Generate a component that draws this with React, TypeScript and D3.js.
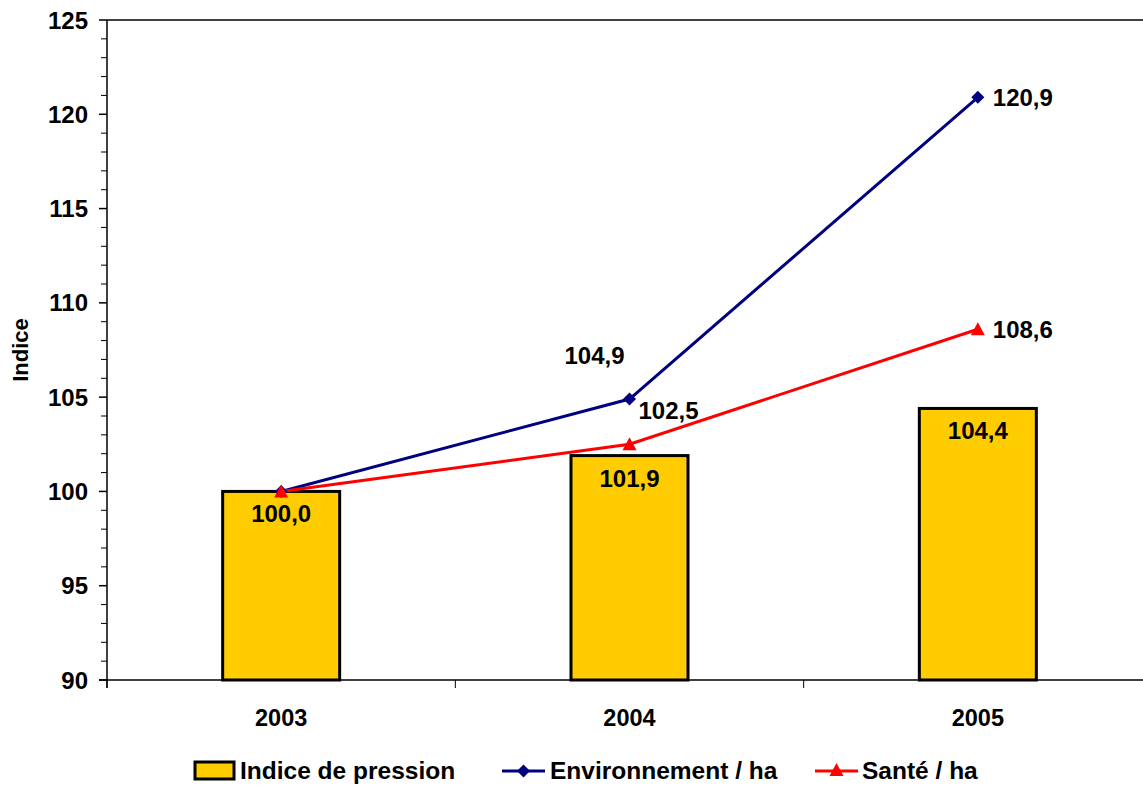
import React from "react";
import * as d3 from "d3";

// Chart data
const years = ["2003", "2004", "2005"];
const pression = [100.0, 101.9, 104.4];
const environnement = [100.0, 104.9, 120.9];
const sante = [100.0, 102.5, 108.6];

// Value labels for the lines: which points carry a label and where it sits
const envLabelPos = [null, "upleft", "right"];
const santeLabelPos = [null, "upright", "right"];

const yTicks = [90, 95, 100, 105, 110, 115, 120, 125];

const FONT = "'Liberation Sans', Arial, Helvetica, sans-serif";
const BLUE = "#000080";
const RED = "#FF0000";
const GOLD = "#FFCC00";

const W = 1143;
const H = 785;
const left = 107;
const top = 20;
const bottom = 680;
const right = 1152;

const fmt = (v: number) => v.toFixed(1).replace(".", ",");

// Excel-style markers: square diamond and equilateral-ish triangle
const DIAMOND = "M0,-6.5L6.5,0L0,6.5L-6.5,0Z";
const TRIANGLE = "M0,-7L7,6L-7,6Z";

export default function App() {
  const x = d3.scaleBand<string>().domain(years).range([left, right]).paddingInner(0).paddingOuter(0);
  const y = d3.scaleLinear().domain([90, 125]).range([bottom, top]);
  const barW = 117;
  const cx = (i: number) => (x(years[i]) as number) + x.bandwidth() / 2;

  const line = d3
    .line<number>()
    .x((_, i) => cx(i))
    .y((d) => y(d));

  const minorTicks = d3.range(90, 126, 1).filter((v) => v % 5 !== 0);
  const catTicks = years.map((yr) => x(yr) as number).concat([right]);

  const lineLabel = (v: number, i: number, pos: string | null) => {
    if (!pos) return null;
    const px = cx(i);
    const py = y(v);
    if (pos === "right") {
      return (
        <text key={`l${i}${v}`} x={px + 15} y={py + 8.5} textAnchor="start">
          {fmt(v)}
        </text>
      );
    }
    if (pos === "upleft") {
      return (
        <text key={`l${i}${v}`} x={px - 35} y={py - 44 + 8.5} textAnchor="middle">
          {fmt(v)}
        </text>
      );
    }
    return (
      <text key={`l${i}${v}`} x={px + 39} y={py - 34 + 8.5} textAnchor="middle">
        {fmt(v)}
      </text>
    );
  };

  return (
    <svg
      width={W}
      height={H}
      style={{ position: "absolute", left: 0, top: 0, background: "#fff" }}
      fontFamily={FONT}
      fontWeight="bold"
    >
      <rect x={0} y={0} width={W} height={H} fill="#fff" />

      {/* plot area top edge */}
      <line x1={left} x2={W} y1={top} y2={top} stroke="#000" strokeWidth={1.5} />

      {/* bars */}
      {pression.map((v, i) => (
        <rect
          key={years[i]}
          x={cx(i) - barW / 2}
          y={y(v)}
          width={barW}
          height={bottom - y(v)}
          fill={GOLD}
          stroke="#000"
          strokeWidth={3}
        />
      ))}

      {/* y axis */}
      <line x1={left} x2={left} y1={top} y2={bottom + 8} stroke="#000" strokeWidth={1.5} />
      {yTicks.map((t) => (
        <g key={t}>
          <line x1={left - 8} x2={left} y1={y(t)} y2={y(t)} stroke="#000" strokeWidth={1.5} />
          <text x={88} y={y(t) + 8.5} textAnchor="end" fontSize={24}>
            {t}
          </text>
        </g>
      ))}
      {minorTicks.map((t) => (
        <line key={`m${t}`} x1={left - 6} x2={left} y1={y(t)} y2={y(t)} stroke="#000" strokeWidth={1} />
      ))}

      {/* x axis */}
      <line x1={left - 8} x2={W} y1={bottom} y2={bottom} stroke="#000" strokeWidth={1.5} />
      {catTicks.map((t, i) => (
        <line key={`c${i}`} x1={t} x2={t} y1={bottom} y2={bottom + 8} stroke="#000" strokeWidth={1} />
      ))}
      {years.map((yr, i) => (
        <text key={`x${yr}`} x={cx(i)} y={726} textAnchor="middle" fontSize={23.5}>
          {yr}
        </text>
      ))}

      {/* y axis title */}
      <text transform={`translate(28,${350}) rotate(-90)`} textAnchor="middle" fontSize={22}>
        Indice
      </text>

      {/* lines */}
      <path d={line(environnement) || ""} fill="none" stroke={BLUE} strokeWidth={3} />
      <path d={line(sante) || ""} fill="none" stroke={RED} strokeWidth={3} />
      {environnement.map((v, i) => (
        <path key={`d${i}`} d={DIAMOND} transform={`translate(${cx(i)},${y(v)})`} fill={BLUE} />
      ))}
      {sante.map((v, i) => (
        <path key={`t${i}`} d={TRIANGLE} transform={`translate(${cx(i)},${y(v)})`} fill={RED} />
      ))}

      {/* labels */}
      <g fontSize={24} fill="#000">
        {pression.map((v, i) => (
          <text key={`b${i}`} x={cx(i)} y={y(v) + 31} textAnchor="middle">
            {fmt(v)}
          </text>
        ))}
        {environnement.map((v, i) => lineLabel(v, i, envLabelPos[i]))}
        {sante.map((v, i) => lineLabel(v, i, santeLabelPos[i]))}
      </g>

      {/* legend */}
      <g fontSize={24.5}>
        <rect x={195} y={762} width={39} height={17} fill={GOLD} stroke="#000" strokeWidth={3} />
        <text x={240} y={779}>Indice de pression</text>

        <line x1={502} x2={545} y1={771} y2={771} stroke={BLUE} strokeWidth={3} />
        <path d={DIAMOND} transform="translate(523.5,771)" fill={BLUE} />
        <text x={550} y={779}>Environnement / ha</text>

        <line x1={815} x2={858} y1={771} y2={771} stroke={RED} strokeWidth={3} />
        <path d={TRIANGLE} transform="translate(836.5,770)" fill={RED} />
        <text x={862} y={779}>Santé / ha</text>
      </g>
    </svg>
  );
}
